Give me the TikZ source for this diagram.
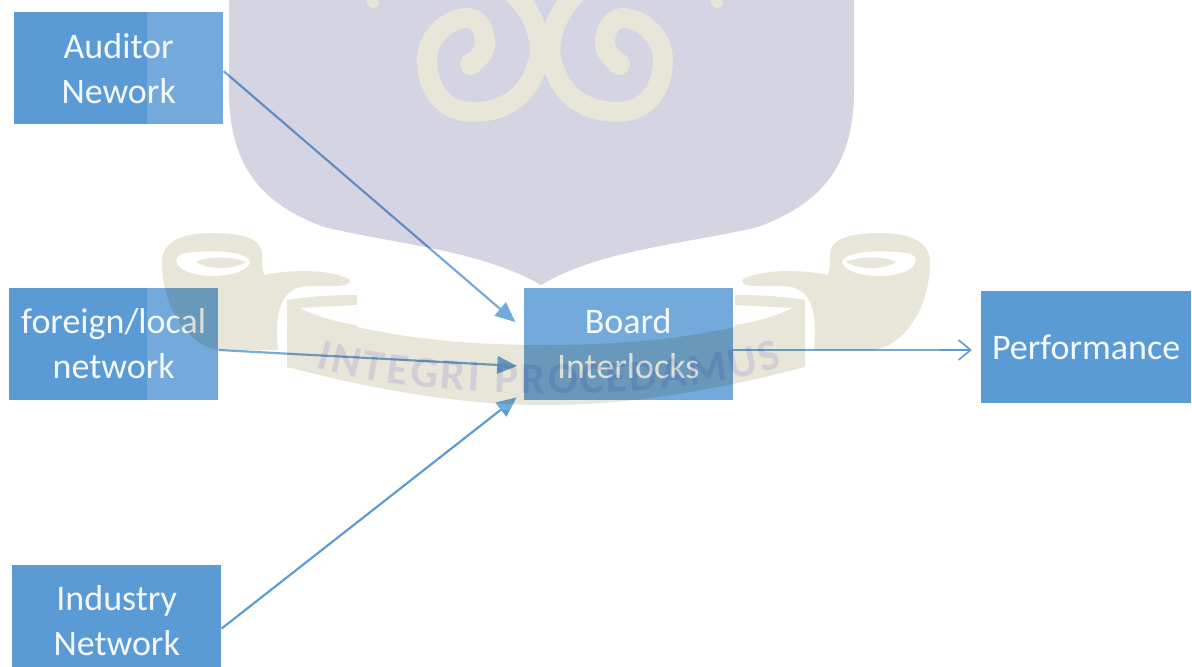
\documentclass[tikz,border=0pt]{standalone}
\usepackage{fontspec}
\setmainfont{Carlito}
\usepackage{xcolor}
\usepackage{tikz}
\usetikzlibrary{arrows.meta,positioning,decorations.text}
\definecolor{NetBlue}{HTML}{5B9BD5}
\definecolor{NetPale}{HTML}{F4F8FC}
\definecolor{CrestLilac}{HTML}{D4D4E3}
\definecolor{CrestSand}{HTML}{E8E6D9}
\definecolor{CrestText}{HTML}{E6E6FB}

\begin{document}
\begin{tikzpicture}[
  x=0.75pt, y=-0.75pt,
  netbox/.style={fill=NetBlue, text=NetPale, minimum width=157pt, minimum height=84pt, align=center, inner sep=0pt, font=\fontsize{27}{33.8}\selectfont},
  arrow/.style={-{Triangle[length=15pt,width=13pt]}, draw=NetBlue, line width=1.6pt},
  openarrow/.style={-{Straight Barb[length=9pt,width=15pt]}, draw=NetBlue, line width=1.2pt}
]
  \useasboundingbox (0,0) rectangle (1192,667);
  \fill[white] (0,0) rectangle (1192,667);

  \node[netbox] (foreign) at (113.7,344) {foreign/local\\network};
  \node[netbox, above=122.25pt of foreign, xshift=3.75pt] (auditor) {Auditor\\Nework};
  \node[netbox, below=123pt of foreign, xshift=2.25pt] (industry) {Industry\\Network};
  \node[netbox, right=228.5pt of foreign] (board) {Board\\Interlocks};
  \node[netbox, right=186pt of board, yshift=-2.25pt] (performance) {Performance};

  \coordinate (inTop) at ([shift={(-6pt,16.5pt)}]board.west);
  \coordinate (inMid) at ([shift={(-4.5pt,-16.5pt)}]board.west);
  \coordinate (inLow) at ([shift={(-5pt,-40pt)}]board.west);
  \coordinate (outStart) at ([yshift=-4.5pt]board.east);
  \coordinate (outEnd) at ([shift={(-7pt,-2.25pt)}]performance.west);

  \draw[arrow] (auditor.east) ++(0,-2pt) -- (inTop);
  \draw[arrow] (foreign.east) ++(0,-4.5pt) -- (inMid);
  \draw[arrow] (industry.east) ++(0,-6pt) -- (inLow);
  \draw[openarrow] (outStart) -- (outEnd);

  % pale veil of the crest
  \fill[white, opacity=.15] (147,0) rectangle (940,410);

  \begin{scope}[blend mode=multiply]
    % shield
    \fill[CrestLilac] (229,0) -- (229,90) .. controls (229,170) and (265,205) .. (324,227)
      .. controls (400,245) and (480,250) .. (541,285)
      .. controls (600,250) and (680,245) .. (758,227)
      .. controls (817,205) and (854,170) .. (854,90) -- (854,0) -- cycle;
    % scroll
    \foreach \flip in {1,-1} {
      \begin{scope}[shift={(546,0)}, xscale=\flip]
        \fill[CrestSand] (-259,300) .. controls (-235,296) and (-210,295) .. (-189,295)
          -- (-189,327) .. controls (-130,340) and (-70,345) .. (0,345)
          -- (0,405) .. controls (-60,405) and (-140,398) .. (-259,367) -- cycle;
        \fill[CrestSand] (-384,262) .. controls (-384,240) and (-360,233) .. (-335,233)
          .. controls (-300,233) and (-284,240) .. (-284,255)
          .. controls (-284,262) and (-284,268) .. (-282,275)
          .. controls (-260,270) and (-215,268) .. (-196,280)
          .. controls (-195,290) and (-225,284) .. (-246,287)
          .. controls (-262,292) and (-272,305) .. (-268,350)
          -- (-328,350) .. controls (-360,345) and (-384,305) .. (-384,262) -- cycle;
      \end{scope}
    }
    % motto
    \path[decorate, decoration={text along path, text align=fit to path,
        text={|\fontsize{33}{33}\selectfont\bfseries\color{CrestText}|INTEGRI PROCEDAMUS}}]
      (316,367) .. controls (420,400) and (660,405) .. (782,367);
  \end{scope}

  \foreach \flip in {1,-1} {
    \begin{scope}[shift={(546,0)}, xscale=\flip]
      % inside of the curl
      \fill[white] (-360,253) .. controls (-378,255) and (-372,275) .. (-335,276)
        .. controls (-312,276) and (-298,270) .. (-296,262)
        .. controls (-298,252) and (-330,249) .. (-360,253) -- cycle;
      \fill[CrestSand] (-350,262) .. controls (-340,256) and (-312,256) .. (-300,262)
        .. controls (-315,271) and (-340,269) .. (-350,262) -- cycle;
      \fill[white] (-246,308) -- (-189,305) -- (-189,325) .. controls (-210,322) and (-230,316) .. (-246,308) -- cycle;
    \end{scope}
    % spirals inside the shield
    \begin{scope}[shift={(545,0)}, xscale=\flip]
      \draw[CrestSand, line width=15pt, line cap=round] (-30,-5) .. controls (-5,20) and (-2,50) .. (-8,65)
        .. controls (-18,100) and (-45,112) .. (-72,112)
        .. controls (-105,112) and (-118,85) .. (-118,60)
        .. controls (-118,35) and (-95,18) .. (-78,18)
        .. controls (-65,18) and (-60,32) .. (-60,42)
        .. controls (-60,52) and (-66,58) .. (-72,62);
      \fill[CrestSand] (-74,64) circle (11);
      \fill[CrestSand] (-172,2) circle (6);
    \end{scope}
  }
\end{tikzpicture}
\end{document}
